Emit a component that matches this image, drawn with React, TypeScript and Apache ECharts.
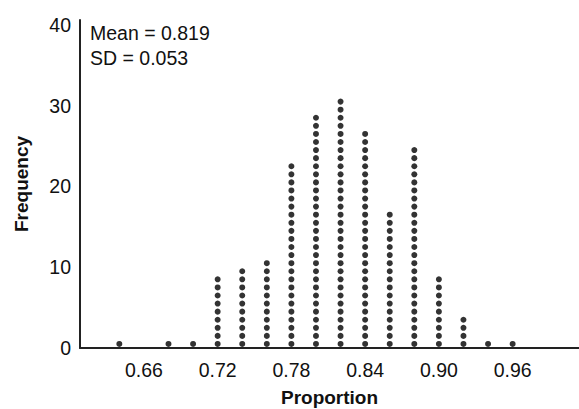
import React, { useEffect, useRef } from "react";
import * as echarts from "echarts";

const proportions = [0.64, 0.68, 0.70, 0.72, 0.74, 0.76, 0.78, 0.80, 0.82, 0.84, 0.86, 0.88, 0.90, 0.92, 0.94, 0.96];
const counts = [1, 1, 1, 9, 10, 11, 23, 29, 31, 27, 17, 25, 9, 4, 1, 1];
const xTickLabels = [0.66, 0.72, 0.78, 0.84, 0.90, 0.96];
const yTickLabels = [0, 10, 20, 30, 40];
const statLines = ["Mean = 0.819", "SD = 0.053"];

const FONT = "'Liberation Sans', Arial, Helvetica, sans-serif";
const FS = 19.5;

export default function App() {
  const ref = useRef<HTMLDivElement>(null);
  useEffect(() => {
    if (!ref.current) return;
    const chart = echarts.init(ref.current, null, { renderer: "svg" });
    const dots: number[][] = [];
    proportions.forEach((p, i) => {
      for (let k = 1; k <= counts[i]; k++) dots.push([p, k - 0.5]);
    });
    chart.setOption({
      animation: false,
      backgroundColor: "#ffffff",
      grid: { left: 80, right: 0, top: 20, bottom: 61, containLabel: false, outerBoundsMode: "none" },
      xAxis: {
        type: "value",
        min: 0.608,
        max: 1.014,
        name: "Proportion",
        nameLocation: "middle",
        nameGap: 40,
        nameTextStyle: { fontFamily: FONT, fontSize: 19, fontWeight: "bold", color: "#111" },
        axisLine: { show: true, lineStyle: { color: "#222", width: 2 } },
        axisTick: { show: false },
        splitLine: { show: false },
        axisLabel: {
          customValues: xTickLabels,
          formatter: (v: number) => v.toFixed(2),
          fontFamily: FONT,
          fontSize: FS,
          color: "#111",
          margin: 12,
        },
      },
      yAxis: {
        type: "value",
        min: 0,
        max: 40.6,
        name: "Frequency",
        nameLocation: "middle",
        nameGap: 49,
        nameRotate: 90,
        nameTextStyle: { fontFamily: FONT, fontSize: 19, fontWeight: "bold", color: "#111" },
        axisLine: { show: true, lineStyle: { color: "#222", width: 2 } },
        axisTick: { show: false },
        splitLine: { show: false },
        axisLabel: {
          customValues: yTickLabels,
          fontFamily: FONT,
          fontSize: FS,
          color: "#111",
          margin: 9,
        },
      },
      graphic: statLines.map((t, i) => ({
        type: "text",
        left: 90,
        top: 23 + i * 25,
        style: { text: t, fontFamily: FONT, fontSize: FS, fill: "#111" },
      })),
      series: [
        {
          type: "scatter",
          data: dots,
          symbol: "circle",
          symbolSize: 6,
          itemStyle: { color: "#000" },
        },
      ],
    });
    return () => chart.dispose();
  }, []);
  return <div ref={ref} style={{ width: 579, height: 409, position: "absolute", left: 0, top: 0 }} />;
}
